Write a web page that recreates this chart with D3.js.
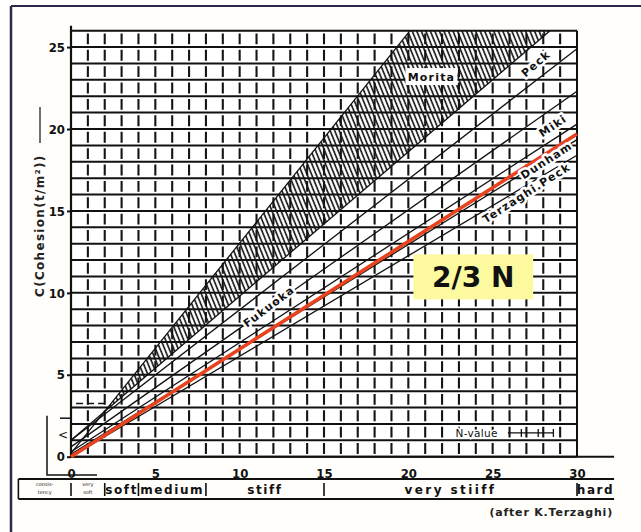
<!DOCTYPE html>
<html><head><meta charset="utf-8">
<script src="https://cdn.jsdelivr.net/npm/d3@7"></script>
<style>
html,body{margin:0;padding:0;background:#fff;}
svg{display:block;}
</style></head><body>
<svg id="chart" width="641" height="532"></svg>
<script>
// ---------- data ----------
const nTicks = [0, 5, 10, 15, 20, 25, 30];
const cTicks = [0, 5, 10, 15, 20, 25];
const nGridValues = [0,1,2,3,4,5,6,7,8,9,10,11,12,13,14,15,16,17,18,19,20,21,22,23,24,25,26,27,28,29,30];
const cGridValues = [0,1,2,3,4,5,6,7,8,9,10,11,12,13,14,15,16,17,18,19,20,21,22,23,24,25,26];

const redLine          = [[0, 0.0], [30, 19.7]];   // 2/3 N
const terzaghiPeckLine = [[0, 0.0], [30, 18.4]];
const dunhamLine       = [[0, 0.15], [30, 19.35]];
const mikiLine         = [[0, 0.3], [30, 20.3]];
const fukuokaLine      = [[0, 0.6], [30, 22.3]];
const peckLine         = [[0, 1.0], [30, 24.9]];
const moritaUpper      = [[0, 0.2], [20.1, 26]];
const moritaLower      = [[0, 1.0], [28.4, 26]];
const moritaBand       = [[1.98, 2.75], [20.1, 26], [28.4, 26]];

const lineLabels   = ["Morita", "Peck", "Miki", "Dunham", "Terzaghi.Peck", "Fukuoka"];
const labelN       = [21.37, 27.57, 28.58, 28.2, 27.02, 11.75];
const labelC       = [23.17, 23.97, 20.18, 18.06, 16.08, 9.15];
const labelAngle   = [0, -41, -34, -32.5, -32.5, -37];

const consistencyLabels = ["", "", "soft", "medium", "stiff", "very stiiff", "hard"];
const consistencyEdges  = [-3.12, 0, 2, 4, 8, 15, 30, 32.2];

// ---------- chart ----------
const svg = d3.select("#chart");
const x = d3.scaleLinear().domain([0, 30]).range([71, 577]);
const y = d3.scaleLinear().domain([0, 26]).range([456.7, 30.7]);
const font = "'DejaVu Sans', sans-serif";

// page background and scan border
svg.append("rect").attr("x", 0).attr("y", 0).attr("width", 641).attr("height", 532).attr("fill", "#ffffff");
svg.append("rect").attr("x", 11).attr("y", 6).attr("width", 630).attr("height", 526).attr("fill", "#fffefa");
svg.append("line").attr("x1", 11).attr("x2", 641).attr("y1", 6).attr("y2", 6).attr("stroke", "#2a2a48").attr("stroke-width", 2);
svg.append("line").attr("x1", 11).attr("x2", 11).attr("y1", 6).attr("y2", 532).attr("stroke", "#2a2a48").attr("stroke-width", 2.5);

// plot background
svg.append("rect").attr("x", x(0)).attr("y", y(26)).attr("width", x(30) - x(0)).attr("height", y(0) - y(26)).attr("fill", "#fff");

// hatch pattern
const defs = svg.append("defs");
const pat = defs.append("pattern").attr("id", "hatch").attr("patternUnits", "userSpaceOnUse")
  .attr("width", 4.2).attr("height", 20).attr("patternTransform", "rotate(-22)");
pat.append("rect").attr("width", 4.2).attr("height", 20).attr("fill", "#fff");
pat.append("line").attr("x1", 1).attr("x2", 1).attr("y1", 0).attr("y2", 20).attr("stroke", "#111").attr("stroke-width", 1.6);

const line = d3.line().x(d => x(d[0])).y(d => y(d[1]));

svg.append("path").datum(moritaBand).attr("d", d3.line().x(d => x(d[0])).y(d => y(d[1])).curve(d3.curveLinearClosed)).attr("fill", "url(#hatch)");

// grid: horizontal lines
const cellH = y(0) - y(1);
svg.append("g").selectAll("line").data(cGridValues).join("line")
  .attr("x1", x(0)).attr("x2", x(30)).attr("y1", d => y(d)).attr("y2", d => y(d))
  .attr("stroke", "#111").attr("stroke-width", 2);
// grid: vertical broken lines
svg.append("g").selectAll("line").data(nGridValues.filter(d => d > 0 && d < 30)).join("line")
  .attr("x1", d => x(d)).attr("x2", d => x(d)).attr("y1", y(26)).attr("y2", y(0))
  .attr("stroke", "#151515").attr("stroke-width", 2.1)
  .attr("stroke-dasharray", `${cellH - 5.5} 5.5`).attr("stroke-dashoffset", -2.75);
// frame
svg.append("line").attr("x1", x(0)).attr("x2", x(0)).attr("y1", y(26) - 5).attr("y2", y(0)).attr("stroke", "#111").attr("stroke-width", 2.2);
svg.append("line").attr("x1", x(30)).attr("x2", x(30)).attr("y1", y(26)).attr("y2", y(0)).attr("stroke", "#111").attr("stroke-width", 2);
svg.append("line").attr("x1", x(0)).attr("x2", x(32.2)).attr("y1", y(0)).attr("y2", y(0)).attr("stroke", "#111").attr("stroke-width", 2);

// data lines
[terzaghiPeckLine, dunhamLine, mikiLine, fukuokaLine, peckLine, moritaUpper, moritaLower].forEach(l => {
  svg.append("path").datum(l).attr("d", line).attr("fill", "none").attr("stroke", "#111").attr("stroke-width", 1.3);
});
svg.append("path").datum(redLine).attr("d", line).attr("fill", "none").attr("stroke", "#e8431f").attr("stroke-width", 3.6);

// line labels
lineLabels.forEach((t, i) => {
  const px = x(labelN[i]), py = y(labelC[i]);
  if (i === 0) {
    svg.append("rect").attr("x", px - 26).attr("y", py - 9).attr("width", 52).attr("height", 17).attr("fill", "#fff");
  }
  svg.append("text").attr("transform", `translate(${px},${py}) rotate(${labelAngle[i]})`)
    .attr("text-anchor", "middle").attr("dominant-baseline", "central")
    .attr("font-family", font).attr("font-weight", "bold").attr("font-size", 11)
    .attr("letter-spacing", 1.2)
    .attr("stroke", "#fff").attr("stroke-width", 5).attr("paint-order", "stroke").attr("stroke-linejoin", "round")
    .attr("fill", "#111").text(t);
});

// 2/3 N callout
svg.append("rect").attr("x", x(20.3)).attr("y", y(12.35)).attr("width", x(27.4) - x(20.3)).attr("height", y(9.6) - y(12.35)).attr("fill", "#fcf99e");
svg.append("text").attr("x", x(23.85)).attr("y", y(10.95)).attr("text-anchor", "middle").attr("dominant-baseline", "central")
  .attr("font-family", "'DejaVu Sans', sans-serif").attr("font-weight", "bold").attr("font-size", 28)
  .attr("fill", "#111").text("2/3 N");

// N-value legend
svg.append("text").attr("x", x(22.8)).attr("y", y(1.45)).attr("dominant-baseline", "central")
  .attr("font-family", font).attr("font-size", 10.5).attr("fill", "#111").attr("letter-spacing", 0.3)
  .attr("stroke", "#fff").attr("stroke-width", 3).attr("paint-order", "stroke").text("N-value");
svg.append("line").attr("x1", x(25.9)).attr("x2", x(28.6)).attr("y1", y(1.45)).attr("y2", y(1.45)).attr("stroke", "#111").attr("stroke-width", 1.3);
[26.7, 27.7, 28.6].forEach(v => svg.append("line").attr("x1", x(v)).attr("x2", x(v)).attr("y1", y(1.45) - 4).attr("y2", y(1.45) + 4).attr("stroke", "#111").attr("stroke-width", 1.3));

// axes
const xAxis = svg.append("g").attr("transform", `translate(0,${y(0) + 12})`)
  .call(d3.axisBottom(x).tickValues(nTicks).tickSize(0).tickPadding(0));
xAxis.select(".domain").remove();
xAxis.selectAll("text").attr("font-family", "'DejaVu Sans Condensed', 'DejaVu Sans', sans-serif").attr("font-weight", "bold").attr("font-size", 13).attr("fill", "#111");

const yAxis = svg.append("g").attr("transform", `translate(${x(0)},0)`)
  .call(d3.axisLeft(y).tickValues(cTicks).tickSize(4).tickPadding(2));
yAxis.select(".domain").remove();
yAxis.selectAll("line").attr("stroke", "#111").attr("stroke-width", 2);
yAxis.selectAll("text").attr("font-family", "'DejaVu Sans Condensed', 'DejaVu Sans', sans-serif").attr("font-weight", "bold").attr("font-size", 13).attr("fill", "#111");

// odd marks near the origin
svg.append("text").attr("x", 63).attr("y", y(1.3)).attr("text-anchor", "middle").attr("dominant-baseline", "central")
  .attr("font-family", font).attr("font-size", 12).attr("fill", "#111").text("<");
svg.append("line").attr("x1", 60).attr("x2", x(0)).attr("y1", y(2.35)).attr("y2", y(2.35)).attr("stroke", "#111").attr("stroke-width", 1.5);
svg.append("line").attr("x1", x(0.3)).attr("x2", x(2.2)).attr("y1", y(3.25)).attr("y2", y(3.25)).attr("stroke", "#111").attr("stroke-width", 1.5).attr("stroke-dasharray", "7 4");
svg.append("path").attr("d", `M47,${y(2.5)} V475 H97`).attr("fill", "none").attr("stroke", "#111").attr("stroke-width", 1.5);

// y title
svg.append("text").attr("transform", `translate(40,${y(14.1)}) rotate(-90)`).attr("text-anchor", "middle").attr("dominant-baseline", "central")
  .attr("font-family", font).attr("font-weight", 600).attr("font-size", 12).attr("letter-spacing", 1.3).attr("fill", "#222").text("C(Cohesion(t/m²))");
svg.append("line").attr("x1", 40).attr("x2", 40).attr("y1", 107).attr("y2", 143).attr("stroke", "#222").attr("stroke-width", 1.3);

// consistency table
const tTop = 479, tBot = 499;
svg.append("line").attr("x1", x(consistencyEdges[0])).attr("x2", x(32.2)).attr("y1", tTop).attr("y2", tTop).attr("stroke", "#111").attr("stroke-width", 2);
svg.append("line").attr("x1", x(consistencyEdges[0])).attr("x2", x(32.2)).attr("y1", tBot).attr("y2", tBot).attr("stroke", "#111").attr("stroke-width", 2);
svg.append("g").selectAll("line").data(consistencyEdges.slice(0, -1)).join("line")
  .attr("x1", d => x(d)).attr("x2", d => x(d)).attr("y1", (d, i) => i === 0 ? tTop : tTop + 4).attr("y2", (d, i) => i === 0 ? tBot : tBot - 3)
  .attr("stroke", "#111").attr("stroke-width", 1.6);
svg.append("g").selectAll("text").data(consistencyLabels).join("text")
  .attr("x", (d, i) => (x(consistencyEdges[i]) + x(consistencyEdges[i + 1])) / 2)
  .attr("y", 493.5).attr("text-anchor", "middle")
  .attr("font-family", font).attr("font-weight", "bold").attr("font-size", 12).attr("letter-spacing", (d) => d === "very stiiff" ? 2.4 : 1.6).attr("fill", "#111")
  .text(d => d);
// tiny unreadable sub-labels in the first two cells
[["consis-", "tency"], ["very", "soft"]].forEach((pair, i) => {
  pair.forEach((t, j) => svg.append("text")
    .attr("x", (x(consistencyEdges[i]) + x(consistencyEdges[i + 1])) / 2).attr("y", 486 + j * 8)
    .attr("text-anchor", "middle").attr("font-family", font).attr("font-size", 5).attr("fill", "#222").text(t));
});
svg.append("text").attr("x", 613).attr("y", 516).attr("text-anchor", "end")
  .attr("font-family", font).attr("font-weight", "bold").attr("font-size", 11).attr("letter-spacing", 0.8).attr("fill", "#222")
  .text("(after K.Terzaghi)");
</script>
</body></html>
